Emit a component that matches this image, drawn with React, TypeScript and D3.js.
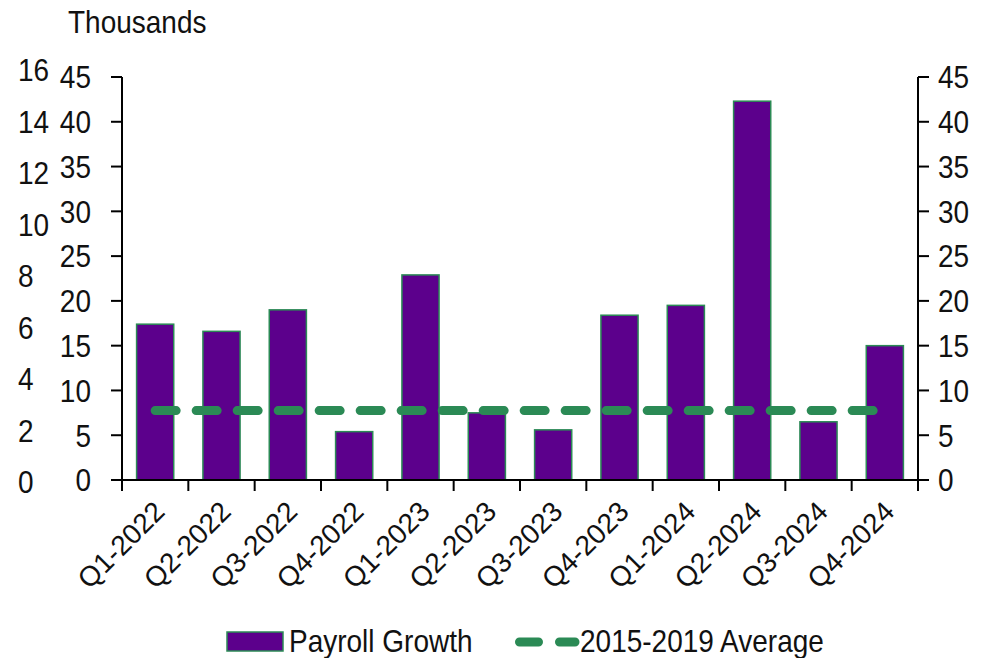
import React from "react";
import * as d3 from "d3";

const categories = [
  "Q1-2022", "Q2-2022", "Q3-2022", "Q4-2022",
  "Q1-2023", "Q2-2023", "Q3-2023", "Q4-2023",
  "Q1-2024", "Q2-2024", "Q3-2024", "Q4-2024",
];
const payrollGrowth = [17.4, 16.6, 19.0, 5.4, 22.9, 7.5, 5.6, 18.4, 19.5, 42.3, 6.5, 15.0];
const average2015_2019 = 7.75;
const mainTicks = [0, 5, 10, 15, 20, 25, 30, 35, 40, 45];
const outerTicks = [0, 2, 4, 6, 8, 10, 12, 14, 16];
const unitLabel = "Thousands";
const seriesNames = ["Payroll Growth", "2015-2019 Average"];

const W = 984;
const H = 658;
const PURPLE = "#5c008c";
const GREEN = "#2b8a55";
const FONT = "'Liberation Sans', Arial, sans-serif";
const FS = 28;

export default function App() {
  const left = 122;
  const right = 918;
  const top = 77;
  const bottom = 480;

  const x = d3.scaleBand<string>().domain(categories).range([left, right]).padding(0);
  const y = d3.scaleLinear().domain([0, 45]).range([bottom, top]);
  const yOuter = d3.scaleLinear().domain([0, 16]).range([482, 70]);
  const barW = x.bandwidth() * 0.56;

  const avgLine = d3
    .line<string>()
    .x((c) => (x(c) as number) + x.bandwidth() / 2)
    .y(() => y(average2015_2019));

  const boundaries = d3.range(categories.length + 1).map((i) => left + i * x.step());
  const stretch = (tx: number, ty: number) => `translate(${tx},${ty}) scale(1,1.12)`;

  return (
    <svg
      width={W}
      height={H}
      viewBox={`0 0 ${W} ${H}`}
      style={{ position: "absolute", left: 0, top: 0, background: "#fff" }}
      fontFamily={FONT}
    >
      <rect x={0} y={0} width={W} height={H} fill="#fff" />

      {/* unit label */}
      <text transform={stretch(68, 33)} fontSize={FS} fill="#111">
        {unitLabel}
      </text>

      {/* outer left labels (0-16) */}
      {outerTicks.map((t) => (
        <text
          key={"o" + t}
          transform={stretch(18, yOuter(t))}
          dy="0.36em"
          fontSize={FS}
          fill="#111"
        >
          {t}
        </text>
      ))}

      {/* bars */}
      {categories.map((c, i) => {
        const cx = (x(c) as number) + x.bandwidth() / 2;
        return (
          <rect
            key={c}
            x={cx - barW / 2}
            y={y(payrollGrowth[i])}
            width={barW}
            height={y(0) - y(payrollGrowth[i])}
            fill={PURPLE}
            stroke={GREEN}
            strokeWidth={1.5}
          />
        );
      })}

      {/* average dashed line */}
      <path
        d={avgLine(categories) as string}
        fill="none"
        stroke={GREEN}
        strokeWidth={9}
        strokeDasharray="21 20"
        strokeLinecap="round"
      />

      {/* left axis */}
      <line x1={left} x2={left} y1={top} y2={bottom} stroke="#000" strokeWidth={2} />
      {mainTicks.map((t) => (
        <g key={"l" + t}>
          <line x1={left - 11} x2={left} y1={y(t)} y2={y(t)} stroke="#000" strokeWidth={2} />
          <text
            transform={stretch(91, y(t))}
            dy="0.36em"
            textAnchor="end"
            fontSize={FS}
            fill="#111"
          >
            {t}
          </text>
        </g>
      ))}

      {/* right axis */}
      <line x1={right} x2={right} y1={top} y2={bottom} stroke="#000" strokeWidth={2} />
      {mainTicks.map((t) => (
        <g key={"r" + t}>
          <line x1={right} x2={right + 11} y1={y(t)} y2={y(t)} stroke="#000" strokeWidth={2} />
          <text
            transform={stretch(938, y(t))}
            dy="0.36em"
            textAnchor="start"
            fontSize={FS}
            fill="#111"
          >
            {t}
          </text>
        </g>
      ))}

      {/* x axis */}
      <line x1={left - 11} x2={right + 11} y1={bottom} y2={bottom} stroke="#000" strokeWidth={2} />
      {boundaries.map((bx, i) => (
        <line key={"xt" + i} x1={bx} x2={bx} y1={bottom} y2={bottom + 11} stroke="#000" strokeWidth={2} />
      ))}
      {categories.map((c) => {
        const cx = (x(c) as number) + x.bandwidth() / 2;
        return (
          <text
            key={"xl" + c}
            transform={`translate(${cx + 4},${506}) rotate(-45)`}
            dy="0.36em"
            textAnchor="end"
            fontSize={FS}
            fill="#111"
          >
            {c}
          </text>
        );
      })}

      {/* legend */}
      <rect x={227} y={632} width={56} height={19} fill={PURPLE} stroke={GREEN} strokeWidth={1.5} />
      <text transform={stretch(289, 652)} fontSize={FS} fill="#111">
        {seriesNames[0]}
      </text>
      <line
        x1={519.5}
        x2={575}
        y1={642}
        y2={642}
        stroke={GREEN}
        strokeWidth={9}
        strokeDasharray="19 21"
        strokeLinecap="round"
      />
      <text transform={stretch(580, 652)} fontSize={FS} fill="#111">
        {seriesNames[1]}
      </text>
    </svg>
  );
}
